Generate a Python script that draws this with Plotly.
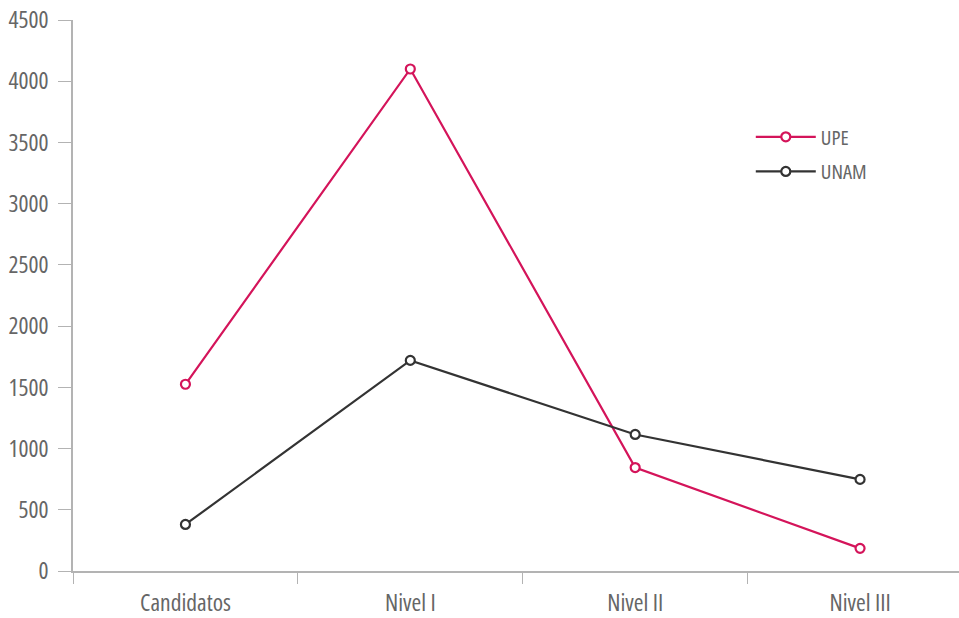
import plotly.graph_objects as go

categorias = ["Candidatos", "Nivel I", "Nivel II", "Nivel III"]
upe = [1525, 4100, 845, 185]
unam = [380, 1720, 1115, 748]
y_ticks = [0, 500, 1000, 1500, 2000, 2500, 3000, 3500, 4000, 4500]

FONT = "Open Sans, sans-serif"
AXIS_GRAY = "#b3b3b3"
TEXT_GRAY = "#666666"

fig = go.Figure()
fig.add_trace(go.Scatter(
    x=categorias, y=upe, name="UPE", mode="lines+markers", legendgroup="a",
    line=dict(color="#d4145a", width=2.2),
    marker=dict(symbol="circle", size=9, color="white",
                line=dict(color="#d4145a", width=2.2)),
))
fig.add_trace(go.Scatter(
    x=categorias, y=unam, name="UNAM", mode="lines+markers", legendgroup="b",
    line=dict(color="#333333", width=2.2),
    marker=dict(symbol="circle", size=9, color="white",
                line=dict(color="#333333", width=2.2)),
))

fig.update_layout(
    width=959, height=618,
    margin=dict(l=73, r=0, t=20, b=47),
    paper_bgcolor="white", plot_bgcolor="white",
    font=dict(family=FONT, color=TEXT_GRAY, size=23.5),
    showlegend=True,
    legend=dict(x=0.765, y=0.824, xanchor="left", yanchor="top",
                font=dict(size=20.5, color=TEXT_GRAY, family=FONT),
                itemwidth=60, traceorder="grouped", tracegroupgap=5,
                bgcolor="rgba(0,0,0,0)"),
    xaxis=dict(
        type="category", range=[-0.5, 3.44], automargin=False,
        showline=True, linecolor=AXIS_GRAY, linewidth=1.5,
        ticks="outside", tickson="boundaries", ticklen=11,
        tickcolor=AXIS_GRAY, tickwidth=1.2, ticklabelstandoff=10,
        showgrid=False, zeroline=False,
        tickfont=dict(size=23.5, color=TEXT_GRAY, family=FONT),
    ),
    yaxis=dict(
        range=[0, 4500], tickvals=y_ticks, automargin=False,
        showline=True, linecolor=AXIS_GRAY, linewidth=1.5,
        ticks="outside", ticklen=13, tickcolor=AXIS_GRAY, tickwidth=1.2,
        ticklabelstandoff=5,
        showgrid=False, zeroline=False,
        tickfont=dict(size=23.5, color=TEXT_GRAY, family=FONT),
    ),
)

# narrow the text face (Open Sans supports a width axis)
condense = """
document.querySelectorAll('.main-svg text').forEach(function(t){
  t.style.fontStretch = '75%';
});
"""
fig.write_html("out.html", post_script=condense)
